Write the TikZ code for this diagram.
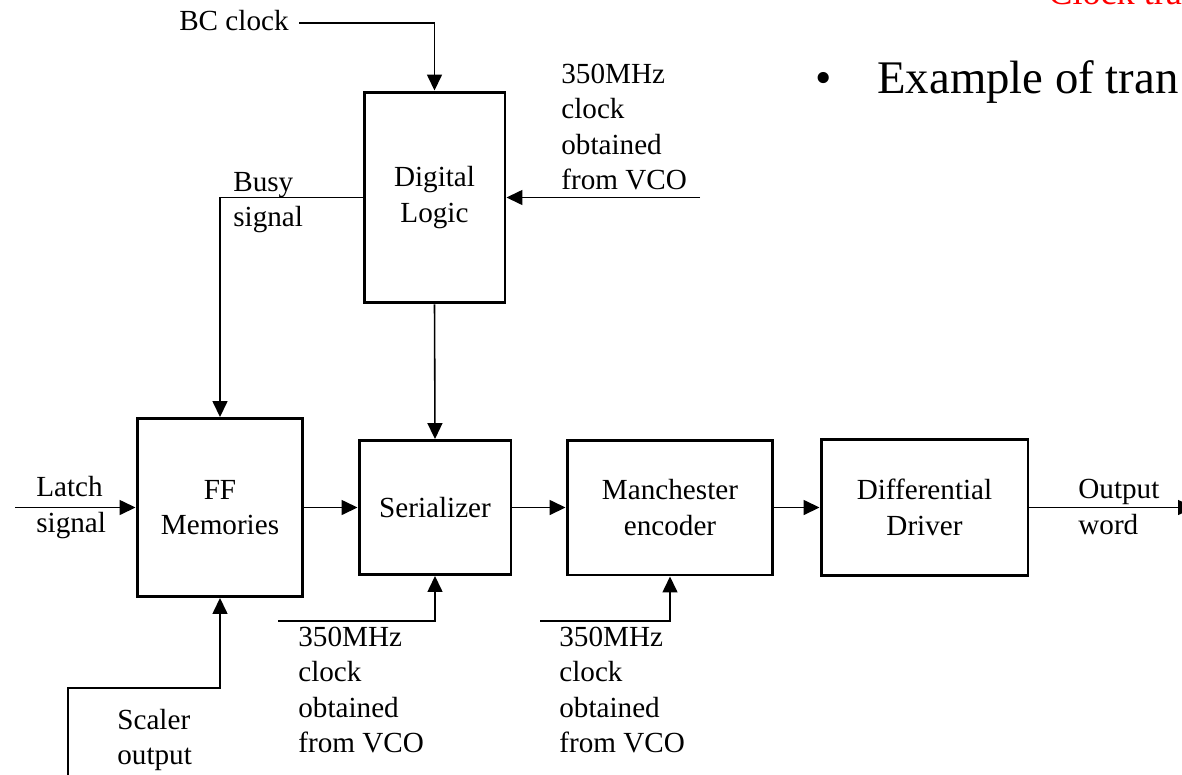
\documentclass[tikz,border=0pt]{standalone}
\usepackage{fontspec}
\setmainfont{Liberation Serif}
\usetikzlibrary{arrows.meta}

\tikzset{
  blockbox/.style={draw, line width=1.7pt, inner sep=0pt, align=center},
  lbl/.style={inner sep=0pt, align=left, anchor=west},
  sig/.style={line width=0.9pt},
  sigarrow/.style={sig, -{Triangle[length=0.32cm,width=0.3cm]}},
}

\begin{document}
\begin{tikzpicture}[x=0.02cm, y=-0.02cm, font=\fontsize{16.6}{20.2}\selectfont]
\clip (0,0) rectangle (1182,774);

\def\yrow{507.5}
\def\yclk{621}

% blocks
\node[blockbox, minimum width=2.82cm, minimum height=4.22cm] (dl) at (434.5,197.5) {Digital\\Logic};
\node[blockbox, minimum width=3.32cm, minimum height=3.56cm] (ff) at (220,\yrow) {FF\\Memories};
\node[blockbox, minimum width=3.04cm, minimum height=2.68cm] (ser) at (435,\yrow) {Serializer};
\node[blockbox, minimum width=4.12cm, minimum height=2.70cm] (man) at (670,\yrow) {Manchester\\encoder};
\node[blockbox, minimum width=4.14cm, minimum height=2.72cm] (diff) at (924.5,\yrow) {Differential\\Driver};

% free ends
\coordinate (bcin) at (299,23);
\coordinate (vcoin) at (700,197.5);
\coordinate (latchin) at (15,\yrow);
\coordinate (outend) at (1194,\yrow);
\coordinate (scin) at (68,790);
\coordinate (scturn) at (68,688);
\coordinate (clkser) at (278,\yclk);
\coordinate (clkman) at (540,\yclk);

% labels
\node[lbl, anchor=east] (bclbl) at (289,21) {BC clock};
\node[lbl] (vcolbl) at (561,127) {350MHz\\clock\\obtained\\from VCO};
\node[lbl] (busylbl) at (233,202.5) {Busy\\signal};
\node[lbl] (latchlbl) at (36,507.5) {Latch\\signal};
\node[lbl] (outlbl) at (1078,507) {Output\\word};
\node[lbl] (sclbl) at (117,740) {Scaler\\output};
\node[lbl] (serclk) at (298,690) {350MHz\\clock\\obtained\\from VCO};
\node[lbl] (manclk) at (559,690) {350MHz\\clock\\obtained\\from VCO};

% slide text
\node[anchor=base, inner sep=0pt, font=\fontsize{26.6}{32}\selectfont] (bul) at (824,93) {\textbullet};
\node[anchor=base west, inner sep=0pt, font=\fontsize{26.6}{32}\selectfont] (ex) at (877,93) {Example of tran};
\node[anchor=base west, inner sep=0pt, text=red, font=\fontsize{20.6}{24}\selectfont] (ttl) at (1048,5) {Clock tra};

% connectors
\draw[sigarrow] (bcin) -| (dl.north);
\draw[sigarrow] (vcoin) -- (dl.east);
\draw[sigarrow] (dl.west) -| (ff.north);
\draw[sigarrow] (dl.south) -- (ser.north);
\draw[sigarrow] (latchin) -- (ff.west);
\draw[sigarrow] (ff.east) -- (ser.west);
\draw[sigarrow] (ser.east) -- (man.west);
\draw[sigarrow] (man.east) -- (diff.west);
\draw[sigarrow] (diff.east) -- (outend);
\draw[sigarrow] (scin) -- (scturn) -| (ff.south);
\draw[sigarrow] (clkser) -| (ser.south);
\draw[sigarrow] (clkman) -| (man.south);

\end{tikzpicture}
\end{document}
